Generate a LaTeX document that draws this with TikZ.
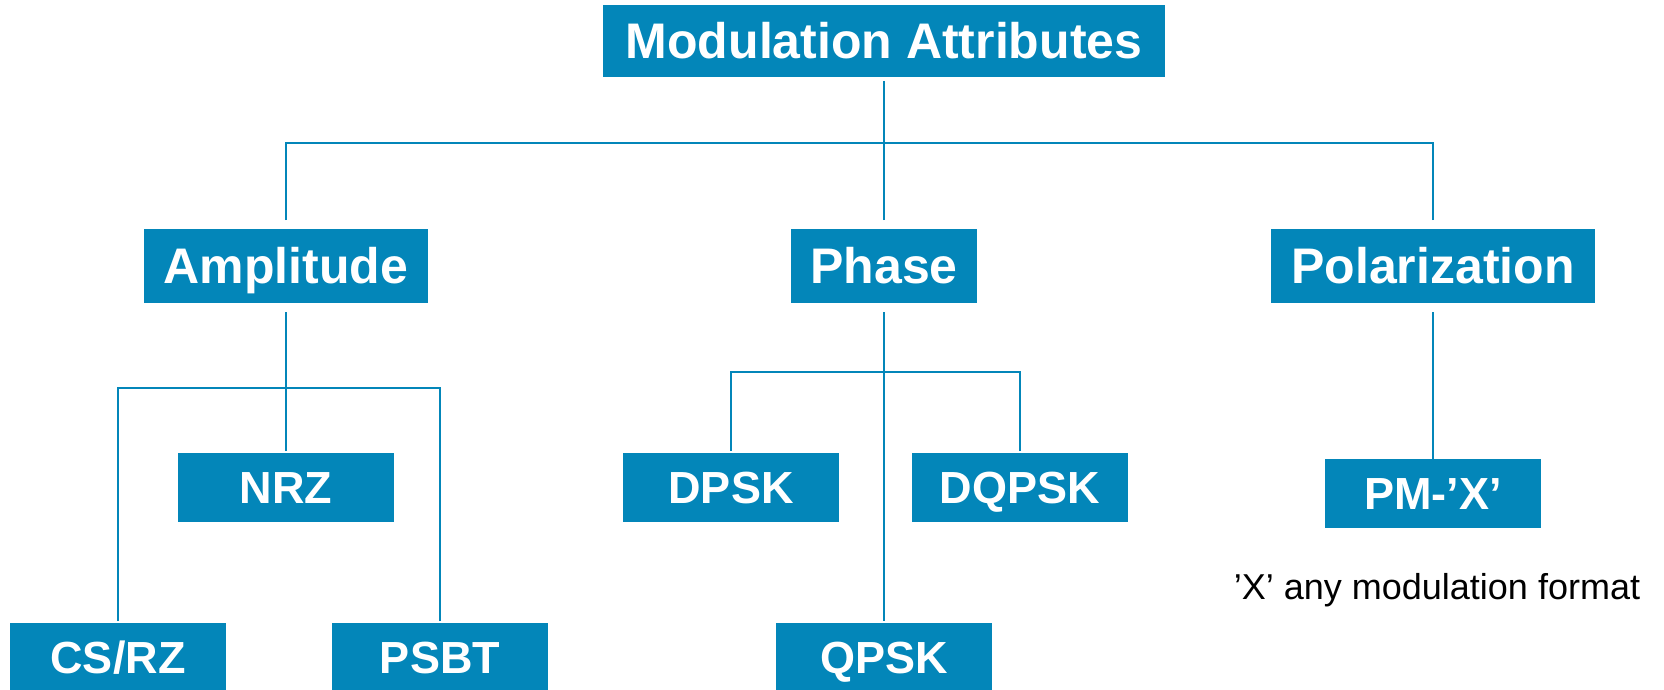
\documentclass[tikz,border=0pt]{standalone}
\usepackage{fontspec}
\setmainfont{Liberation Sans}
\usetikzlibrary{positioning}
\definecolor{modblue}{HTML}{0386B9}

\begin{document}
\begin{tikzpicture}[node distance = 75pt and 40pt,
  box/.style = {fill=modblue, text=white, inner sep=0pt, outer sep=0pt,
    text depth=0pt},
  head/.style = {box, minimum width=281pt, minimum height=36pt,
    text height=17.9pt, font=\bfseries\fontsize{25}{30}\selectfont},
  attr/.style = {box, minimum height=37pt, text height=17.9pt,
    font=\bfseries\fontsize{25}{30}\selectfont},
  fmt/.style = {box, minimum width=108pt, minimum height=34.5pt,
    text height=16.1pt, font=\bfseries\fontsize{22.5}{27}\selectfont},
  note/.style = {inner sep=0pt, font=\fontsize{18}{22}\selectfont},
  link/.style = {draw=modblue, line width=1pt}
  ]
  \useasboundingbox (0,0) rectangle (832pt,-345pt);

  \node (top) [head] at (442pt,-20.5pt) {Modulation Attributes};
  \node (phase) [attr, minimum width=93pt, below=76pt of top] {Phase};
  \node (amp) [attr, minimum width=142pt, left=181.5pt of phase] {Amplitude};
  \node (pol) [attr, minimum width=162pt, right=147pt of phase] {Polarization};

  \node (nrz) [fmt, below=75pt of amp] {NRZ};
  \node (csrz) [fmt, below=160pt of amp, xshift=-84pt] {CS/RZ};
  \node (psbt) [fmt, below=160pt of amp, xshift=77pt] {PSBT};
  \node (dpsk) [fmt, below=75pt of phase, xshift=-76.5pt] {DPSK};
  \node (dqpsk) [fmt, below=75pt of phase, xshift=68pt] {DQPSK};
  \node (qpsk) [fmt, below=160pt of phase] {QPSK};
  \node (pmx) [fmt, below=78pt of pol] {PM-’X’};
  \node (anyfmt) [note, below=22.5pt of pmx, xshift=2pt] {’X’ any modulation format};

  \coordinate[below=33pt of top] (j0);
  \coordinate[below=42.5pt of amp] (j1);
  \coordinate[below=34.5pt of phase] (j2);

  \draw[link, shorten <=2pt] (top) -- (j0);
  \draw[link, shorten <=4.5pt] (amp) |- (j0);
  \draw[link, shorten <=4.5pt] (pol) |- (j0);
  \draw[link, shorten <=4.5pt] (phase) -- (j0);

  \draw[link, shorten <=4.5pt] (amp) -- (j1);
  \draw[link, shorten <=1pt] (nrz) -- (j1);
  \draw[link, shorten <=1pt] (csrz) |- (j1);
  \draw[link, shorten <=1pt] (psbt) |- (j1);

  \draw[link, shorten <=4.5pt] (phase) -- (j2);
  \draw[link, shorten <=1pt] (dpsk) |- (j2);
  \draw[link, shorten <=1pt] (dqpsk) |- (j2);
  \draw[link, shorten <=4.5pt, shorten >=1pt] (phase) -- (qpsk);

  \draw[link, shorten <=4.5pt] (pol) -- (pmx);
\end{tikzpicture}
\end{document}
